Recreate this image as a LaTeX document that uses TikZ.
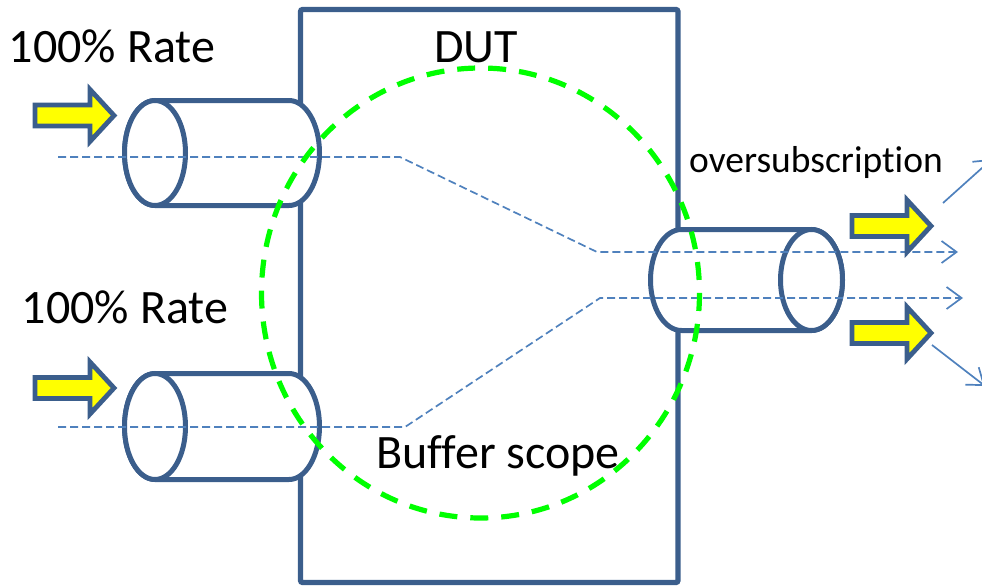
\documentclass[tikz,border=0pt]{standalone}
\usepackage{fontspec}
\setmainfont{Carlito}[Ligatures=NoCommon]
\usetikzlibrary{arrows.meta}
\definecolor{boxblue}{HTML}{3B5E8C}
\definecolor{lineblue}{HTML}{4F81BD}
\definecolor{scopegreen}{HTML}{00FF00}
\definecolor{arrowyellow}{HTML}{FFFF00}
\tikzset{
  dutbox/.style={draw=boxblue, line width=5.2pt, rounded corners=2pt},
  cylbody/.style={draw=boxblue, fill=white, line width=5pt},
  flowline/.style={draw=lineblue, line width=1.7pt, dash pattern=on 8pt off 4pt, -{Straight Barb[length=15pt,width=22pt]}},
  outline/.style={draw=lineblue, line width=1.7pt, -{Straight Barb[length=15pt,width=22pt]}},
  scope/.style={draw=scopegreen, line width=5.2pt, dash pattern=on 18pt off 13pt},
  bigtext/.style={font=\fontsize{48}{52}\selectfont, inner sep=0pt, anchor=base},
  midtext/.style={font=\fontsize{37.5}{42}\selectfont, inner sep=0pt, anchor=base},
  blockarrow/.pic={
    \draw[draw=boxblue, fill=arrowyellow, line width=4.8pt, line join=miter]
      (0,-10.5) -- (55,-10.5) -- (55,-26) -- (79,0) -- (55,26) -- (55,10.5) -- (0,10.5) -- cycle;
  }
}
\begin{document}
\begin{tikzpicture}[x=1pt, y=-1pt]
\clip (0,0) rectangle (982,586);
\useasboundingbox (0,0) rectangle (982,586);

% DUT box
\draw[dutbox] (300.5,9.5) rectangle (678,582.5);

% left cylinders
\foreach \cy/\ry in {153/52.5, 426.5/53}{
  \draw[cylbody] (155,\cy-\ry) -- (289,\cy-\ry) arc[start angle=-90, end angle=90, x radius=30.5, y radius=\ry]
     -- (155,\cy+\ry) arc[start angle=90, end angle=270, x radius=30.5, y radius=\ry] -- cycle;
  \draw[cylbody] (155,\cy) ellipse[x radius=30.5, y radius=\ry];
}
% right cylinder
\draw[cylbody] (681.5,229.5) -- (811.5,229.5) arc[start angle=-90, end angle=90, x radius=31, y radius=50.5]
   -- (681.5,330.5) arc[start angle=90, end angle=270, x radius=31, y radius=50.5] -- cycle;
\draw[cylbody] (811.5,280) ellipse[x radius=31, y radius=50.5];

% flow paths
\coordinate (in1) at (58,157);
\coordinate (k1) at (400,157);
\coordinate (m1) at (597,252);
\coordinate (out1) at (958,252);
\coordinate (in2) at (58,427);
\coordinate (k2) at (405,427);
\coordinate (m2) at (600,298);
\coordinate (out2) at (963,298);
\draw[flowline] (in1) -- (k1) -- (m1) -- (out1);
\draw[flowline] (in2) -- (k2) -- (m2) -- (out2);

% outgoing solid arrows
\coordinate (s1) at (943,203);
\coordinate (e1) at (992,159);
\coordinate (s2) at (932,345);
\coordinate (e2) at (985,386);
\draw[outline] (s1) -- (e1);
\draw[outline] (s2) -- (e2);

% buffer scope
\draw[scope] (480.5,293) ellipse[x radius=219, y radius=225];

% block arrows
\pic at (35,115.5) {blockarrow};
\pic at (35,388) {blockarrow};
\pic at (852,226) {blockarrow};
\pic at (852,333) {blockarrow};

% texts
\node[bigtext] (rate1) at (112,63) {100\% Rate};
\node[bigtext] (rate2) at (125,323) {100\% Rate};
\node[bigtext] (dut) at (476,63) {DUT};
\node[bigtext] (buf) at (498,468) {Buffer scope};
\node[midtext] (over) at (816,172) {oversubscription};
\end{tikzpicture}
\end{document}
